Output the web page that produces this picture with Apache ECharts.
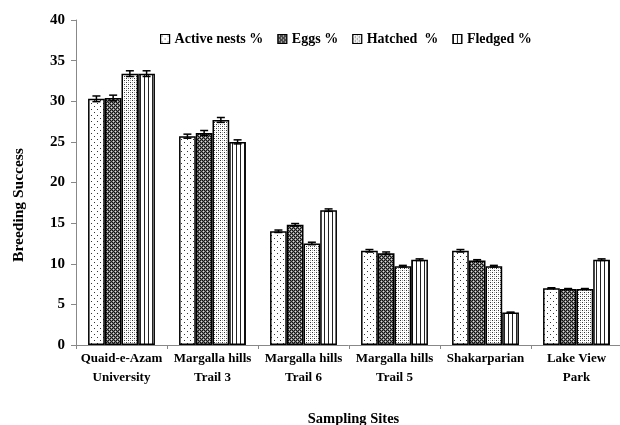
<!DOCTYPE html>
<html><head><meta charset="utf-8">
<script src="https://cdn.jsdelivr.net/npm/echarts@6/dist/echarts.min.js"></script>
<style>html,body{margin:0;padding:0;background:#fff}#c{width:620px;height:425px}</style>
</head><body><div id="c"></div>
<script>
const categories = ['Quaid-e-Azam\nUniversity','Margalla hills\nTrail 3','Margalla hills\nTrail 6','Margalla hills\nTrail 5','Shakarparian','Lake View\nPark'];
const seriesNames = ['Active nests %','Eggs %','Hatched  %','Fledged %'];
const activeNests = [30.3, 25.7, 14.0, 11.6, 11.6, 7.0];
const eggs        = [30.4, 26.1, 14.8, 11.3, 10.4, 6.9];
const hatched     = [33.4, 27.7, 12.5, 9.7, 9.7, 6.9];
const fledged     = [33.4, 25.0, 16.6, 10.5, 4.0, 10.5];
const activeErr   = [0.35, 0.25, 0.15, 0.15, 0.15, 0.05];
const eggsErr     = [0.35, 0.3, 0.15, 0.15, 0.1, 0.05];
const hatchedErr  = [0.35, 0.3, 0.15, 0.1, 0.1, 0.05];
const fledgedErr  = [0.35, 0.25, 0.15, 0.1, 0.05, 0.1];
const yTicks = [0,5,10,15,20,25,30,35,40];

const values = [activeNests, eggs, hatched, fledged];
const errs = [activeErr, eggsErr, hatchedErr, fledgedErr];

function pat(w, h, draw){
  const c = document.createElement('canvas'); c.width=w; c.height=h;
  const ctx = c.getContext('2d'); ctx.fillStyle='#fff'; ctx.fillRect(0,0,w,h);
  draw(ctx); return {image:c, repeat:'repeat'};
}
function px(ctx,x,y,col){ctx.fillStyle=col;ctx.fillRect(x,y,1,1);}
const patterns = [
  pat(6,6,ctx=>{px(ctx,1,1,'#333');px(ctx,4,4,'#333');}),
  pat(4,4,ctx=>{ctx.fillStyle='#777';ctx.fillRect(0,0,4,4);
     px(ctx,0,0,'#111');px(ctx,2,0,'#111');px(ctx,1,1,'#ddd');px(ctx,3,1,'#222');
     px(ctx,0,2,'#111');px(ctx,2,2,'#111');px(ctx,1,3,'#222');px(ctx,3,3,'#ddd');}),
  pat(4,4,ctx=>{px(ctx,0,0,'#333');px(ctx,2,2,'#333');px(ctx,2,0,'#aaa');px(ctx,0,2,'#aaa');}),
  pat(4,4,ctx=>{ctx.fillStyle='#222';ctx.fillRect(0,0,1,4);})
];

const font = 'Liberation Serif';
const gapFrac = 0.265;
const series = values.map((v,i)=>({
  name: seriesNames[i], type:'bar', data:v, barGap:'0%', barCategoryGap:(gapFrac*100)+'%',
  itemStyle:{color:patterns[i], borderColor:'#000', borderWidth:1.5},
  emphasis:{disabled:true}
}));
const errData = [];
values.forEach((v,s)=>v.forEach((val,c)=>errData.push([c,val,errs[s][c],s])));
series.push({
  type:'custom', silent:true, z:10,
  data: errData,
  encode:{x:0,y:1},
  renderItem:(params, api)=>{
    const c = api.value(0), val = api.value(1), e = api.value(2), s = api.value(3);
    const band = api.size([1,0])[0];
    const bw = band*(1-gapFrac)/4;
    const p = api.coord([c,val]);
    const x = p[0] + (s-1.5)*bw;
    const yt = api.coord([c,val+e])[1], yb = api.coord([c,val-e])[1];
    const st = {stroke:'#000', lineWidth:1.5};
    return {type:'group', children:[
      {type:'line', shape:{x1:x,y1:yt,x2:x,y2:yb}, style:st},
      {type:'line', shape:{x1:x-4,y1:yt,x2:x+4,y2:yt}, style:st},
      {type:'line', shape:{x1:x-4,y1:yb,x2:x+4,y2:yb}, style:st}
    ]};
  }
});

const chart = echarts.init(document.getElementById('c'), null, {renderer:'canvas'});
chart.setOption({
  animation:false,
  backgroundColor:'#fff',
  grid:{left:76, top:20, width:546, height:325, containLabel:false, outerBoundsMode:'none'},
  legend:{
    data: seriesNames, top:27, left:155, itemWidth:9, itemHeight:9, itemGap:14,
    icon:'rect',
    textStyle:{fontFamily:font, fontWeight:'bold', fontSize:14, color:'#000'},
    itemStyle:{borderColor:'#000', borderWidth:1.2}
  },
  graphic:[{
    type:'text', x:19, y:205, rotation:Math.PI/2,
    style:{text:'Breeding Success', fontFamily:font, fontWeight:'bold', fontSize:15.5, fill:'#000',
      align:'center', verticalAlign:'middle'}
  }],
  xAxis:{
    type:'category', data:categories,
    name:'Sampling Sites', nameLocation:'middle', nameGap:67,
    nameTextStyle:{fontFamily:font, fontWeight:'bold', fontSize:14.5, color:'#000', padding:[0,0,0,9]},
    axisLine:{lineStyle:{color:'#888', width:1}},
    axisTick:{show:true, length:4, lineStyle:{color:'#888'}, alignWithLabel:false},
    axisLabel:{fontFamily:font, fontWeight:'bold', fontSize:13, color:'#000', lineHeight:19, margin:4, interval:0}
  },
  yAxis:{
    type:'value', min:0, max:40, interval:5,
    axisLine:{show:true, lineStyle:{color:'#888', width:1}},
    axisTick:{show:true, length:5, lineStyle:{color:'#888'}},
    splitLine:{show:false},
    axisLabel:{fontFamily:font, fontWeight:'bold', fontSize:15, color:'#000', margin:11,
      formatter:v=>yTicks.includes(v)?String(v):''}
  },
  series: series
});
</script></body></html>
